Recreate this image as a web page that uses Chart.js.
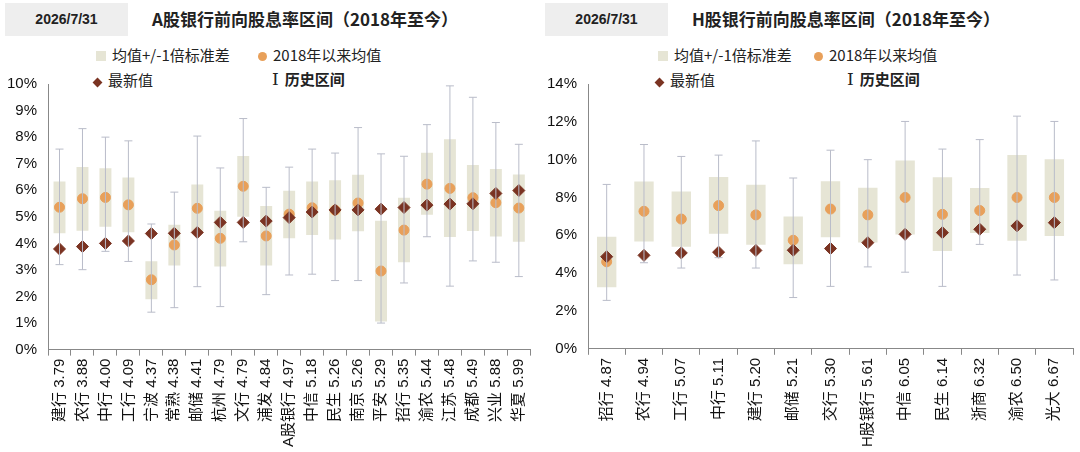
<!DOCTYPE html>
<html><head><meta charset="utf-8">
<script src="https://cdn.jsdelivr.net/npm/chart.js@4"></script>
<style>
body{margin:0;width:1080px;height:452px;background:#fff;position:relative;font-family:"Noto Sans CJK SC",sans-serif;overflow:hidden}
.date{position:absolute;top:3px;width:123px;height:33px;background:#eeeeee;font:bold 14px "Liberation Sans",sans-serif;line-height:33px;text-align:center;color:#222}
.title{position:absolute;top:6px;font-weight:bold;font-size:17px;color:#222}
.lg{position:absolute;font-size:15px;color:#222;white-space:nowrap}
.sw{display:inline-block;width:10px;height:10px;background:#e6e5d5;margin-right:6px}
.dot{display:inline-block;width:9px;height:9px;border-radius:50%;background:#e8a05a;margin-right:6px}
.dia{display:inline-block;width:7px;height:7px;background:#7a3322;transform:rotate(45deg);margin-right:7px}
.ib{font:normal 17px "DejaVu Serif",serif;margin-right:6px}
.box{position:absolute;top:60px;width:540px;height:392px}
</style></head><body>
<div class="date" style="left:5px">2026/7/31</div>
<div class="title" style="left:152px">A股银行前向股息率区间（2018年至今）</div>
<div class="date" style="left:545px">2026/7/31</div>
<div class="title" style="left:692px">H股银行前向股息率区间（2018年至今）</div>

<div class="lg" style="left:96px;top:44px"><span class="sw"></span>均值+/-1倍标准差</div>
<div class="lg" style="left:258px;top:44px"><span class="dot"></span>2018年以来均值</div>
<div class="lg" style="left:94px;top:69px"><span class="dia"></span>最新值</div>
<div class="lg" style="left:272px;top:68px;font-weight:bold"><span class="ib">I</span>历史区间</div>
<div class="lg" style="left:658px;top:44px"><span class="sw"></span>均值+/-1倍标准差</div>
<div class="lg" style="left:814px;top:44px"><span class="dot"></span>2018年以来均值</div>
<div class="lg" style="left:656px;top:69px"><span class="dia"></span>最新值</div>
<div class="lg" style="left:847px;top:68px;font-weight:bold"><span class="ib">I</span>历史区间</div>

<div class="box" style="left:0"><canvas id="cA"></canvas></div>
<div class="box" style="left:540px"><canvas id="cH"></canvas></div>
<script>
// A股
const aNames  = ['建行','农行','中行','工行','宁波','常熟','邮储','杭州','文行','浦发','A股银行','中信','民生','南京','平安','招行','渝农','江苏','成都','兴业','华夏'];
const aLatest = [3.79,3.88,4.00,4.09,4.37,4.38,4.41,4.79,4.79,4.84,4.97,5.18,5.26,5.26,5.29,5.35,5.44,5.48,5.49,5.88,5.99];
const aMean   = [5.36,5.68,5.73,5.45,2.63,3.94,5.32,4.19,6.15,4.28,5.10,5.34,5.25,5.52,2.96,4.50,6.23,6.07,5.72,5.53,5.33];
const aBoxLo  = [4.38,4.48,4.63,4.42,1.90,3.17,4.40,3.13,5.00,3.17,4.19,4.32,4.15,4.46,1.06,3.29,5.08,4.24,4.47,4.26,4.06];
const aBoxHi  = [6.33,6.88,6.83,6.48,3.33,4.70,6.22,5.23,7.29,5.41,5.98,6.33,6.38,6.58,4.85,5.72,7.41,7.92,6.95,6.80,6.59];
const aMin    = [3.20,3.01,3.70,3.32,1.41,1.58,2.37,1.62,4.06,2.07,2.81,2.84,2.60,2.60,1.00,2.51,4.25,2.39,3.34,3.29,2.75];
const aMax    = [7.55,8.32,8.00,7.86,4.73,5.93,8.04,6.84,8.70,6.11,6.87,7.55,7.40,8.36,7.37,7.28,8.47,9.93,9.50,8.55,7.73];
// H股
const hNames  = ['招行','农行','工行','中行','建行','邮储','交行','H股银行','中信','民生','浙商','渝农','光大'];
const hLatest = [4.87,4.94,5.07,5.11,5.20,5.21,5.30,5.61,6.05,6.14,6.32,6.50,6.67];
const hMean   = [4.60,7.27,6.86,7.57,7.08,5.74,7.39,7.08,8.00,7.11,7.31,8.00,8.00];
const hBoxLo  = [3.25,5.67,5.39,6.08,5.50,4.47,5.90,5.62,6.04,5.17,6.12,5.71,5.97];
const hBoxHi  = [5.93,8.84,8.32,9.08,8.67,6.99,8.86,8.51,9.95,9.07,8.50,10.25,10.02];
const hMin    = [2.56,4.55,4.27,4.82,4.27,2.71,3.30,4.33,4.05,3.30,5.52,3.90,3.64];
const hMax    = [8.69,10.80,10.17,10.24,10.99,9.03,10.50,10.00,12.02,10.56,11.06,12.30,12.02];

const numFont = "'Liberation Sans', 'Noto Sans CJK SC', sans-serif";

const whiskerPlugin = {
  id: 'whiskers',
  afterDatasetsDraw(chart, args, opts) {
    const { ctx, scales: { x, y } } = chart;
    ctx.save();
    ctx.strokeStyle = '#b9bcc9';
    ctx.lineWidth = 1;
    opts.min.forEach((lo, i) => {
      const px = x.getPixelForValue(i);
      const y1 = y.getPixelForValue(lo), y2 = y.getPixelForValue(opts.max[i]);
      ctx.beginPath();
      ctx.moveTo(px, y1); ctx.lineTo(px, y2);
      ctx.moveTo(px - 4, y1); ctx.lineTo(px + 4, y1);
      ctx.moveTo(px - 4, y2); ctx.lineTo(px + 4, y2);
      ctx.stroke();
    });
    ctx.restore();
  }
};

function makeChart(id, names, latest, mean, lo, hi, mn, mx, yMax, step) {
  const labels = names.map((n, i) => n + ' ' + latest[i].toFixed(2));
  new Chart(document.getElementById(id), {
    type: 'bar',
    plugins: [whiskerPlugin],
    data: {
      labels,
      datasets: [
        { type: 'line', data: mean, showLine: false, pointStyle: 'circle', pointRadius: 5,
          pointBackgroundColor: '#e8a05a', pointBorderColor: '#e8a05a', order: 1 },
        { type: 'line', data: latest, showLine: false, pointStyle: 'rectRot', pointRadius: 6,
          pointBackgroundColor: '#7a3322', pointBorderColor: '#7a3322', order: 0 },
        { data: lo.map((v, i) => [v, hi[i]]), backgroundColor: '#e6e5d5',
          categoryPercentage: 1, barPercentage: 0.52, order: 3 }
      ]
    },
    options: {
      responsive: true, maintainAspectRatio: false, animation: false,
      layout: { padding: { top: 24, right: 6, left: 4, bottom: 2 } },
      plugins: { legend: { display: false }, tooltip: { enabled: false },
        whiskers: { min: mn, max: mx } },
      scales: {
        x: {
          grid: { display: true, drawOnChartArea: false, offset: true, tickLength: 6, color: '#888' },
          border: { color: '#888' },
          ticks: { color: '#111', maxRotation: 90, minRotation: 90, autoSkip: false,
            font: { family: numFont, size: 15 } }
        },
        y: {
          min: 0, max: yMax,
          grid: { display: false },
          border: { color: '#888' },
          ticks: { stepSize: step, color: '#111', callback: v => v + '%',
            font: { family: numFont, size: 15 } }
        }
      }
    }
  });
}

makeChart('cA', aNames, aLatest, aMean, aBoxLo, aBoxHi, aMin, aMax, 10, 1);
makeChart('cH', hNames, hLatest, hMean, hBoxLo, hBoxHi, hMin, hMax, 14, 2);
</script>
</body></html>
